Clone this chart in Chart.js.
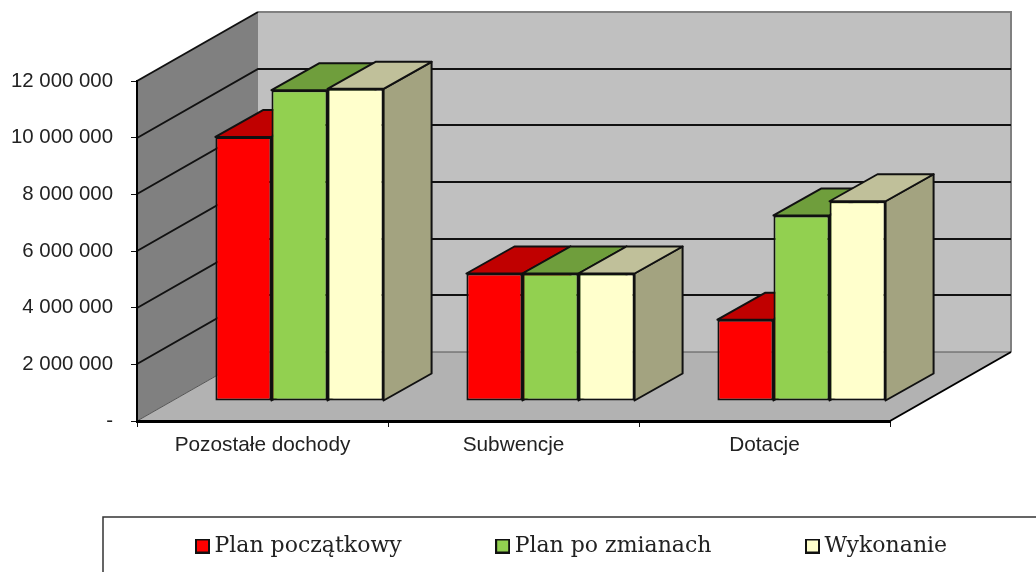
<!DOCTYPE html>
<html>
<head>
<meta charset="utf-8">
<title>Dochody</title>
<script src="https://cdn.jsdelivr.net/npm/chart.js@4"></script>
<style>
  html, body { margin: 0; padding: 0; background: #fff; overflow: hidden; }
  canvas { display: block; }
</style>
</head>
<body>
<canvas id="incomeChart" width="1036" height="572"></canvas>
<script>
const categories = ['Pozostałe dochody', 'Subwencje', 'Dotacje'];
const planPoczatkowy = [9320000, 4500000, 2870000];
const planPoZmianach = [10970000, 4500000, 6550000];
const wykonanie = [11020000, 4500000, 7050000];
const tickLabels = ['-', '2 000 000', '4 000 000', '6 000 000', '8 000 000', '10 000 000', '12 000 000'];

// 3D look: how far the back wall and the bars sit from the axis plane
const wallDepth = { x: 121, y: -69 };
const barShift = { x: 37, y: -20 };
const barDepth = { x: 48, y: -27 };
const legendPadding = 100;

function poly(ctx, points, fill, stroke, lineWidth) {
    ctx.beginPath();
    points.forEach((p, i) => i ? ctx.lineTo(p[0], p[1]) : ctx.moveTo(p[0], p[1]));
    ctx.closePath();
    ctx.fillStyle = fill;
    ctx.fill();
    if (stroke) {
        ctx.strokeStyle = stroke;
        ctx.lineWidth = lineWidth;
        ctx.lineJoin = 'round';
        ctx.stroke();
    }
}

// legend swatch, as a small canvas so the text can sit close to it
function swatch(color) {
    const c = document.createElement('canvas');
    c.width = 15;
    c.height = 15;
    const g = c.getContext('2d');
    g.fillStyle = color;
    g.fillRect(1, 1, 13, 13);
    g.strokeStyle = '#111111';
    g.lineWidth = 2;
    g.strokeRect(1, 1, 13, 13);
    return c;
}

const walls = {
    id: 'walls',
    beforeDraw(chart) {
        const ctx = chart.ctx;
        const { left, right, top, bottom } = chart.chartArea;
        const dx = wallDepth.x, dy = wallDepth.y;

        // the legend keeps its padding between items but sits in a tight frame
        const legend = chart.legend;
        legend.left = 201.5 - legendPadding;
        legend.right = 1150;
        legend.top = 535 - legendPadding;
        legend.bottom = 572;

        ctx.save();
        poly(ctx, [[left, top], [left + dx, top + dy], [left + dx, bottom + dy], [left, bottom]], '#808080');
        poly(ctx, [[left + dx, top + dy], [right + dx, top + dy], [right + dx, bottom + dy], [left + dx, bottom + dy]], '#c0c0c0');
        poly(ctx, [[left, bottom], [left + dx, bottom + dy], [right + dx, bottom + dy], [right, bottom]], '#b2b2b2');

        // wall outline
        ctx.strokeStyle = '#808080';
        ctx.lineWidth = 2;
        ctx.beginPath();
        ctx.moveTo(left + dx, top + dy);
        ctx.lineTo(right + dx, top + dy);
        ctx.lineTo(right + dx, bottom + dy);
        ctx.stroke();

        // grid lines run along the side wall and across the back wall
        const yScale = chart.scales.y;
        yScale.ticks.forEach(t => {
            const y = Math.round(yScale.getPixelForValue(t.value));
            if (t.value === 0) {
                ctx.strokeStyle = '#555555';
                ctx.lineWidth = 1;
            } else {
                ctx.strokeStyle = '#111111';
                ctx.lineWidth = 2;
            }
            ctx.beginPath();
            ctx.moveTo(left, y);
            ctx.lineTo(left + dx, y + dy);
            if (t.value < 12000000) {
                ctx.lineTo(right + dx, y + dy);
            }
            ctx.stroke();
        });

        // front right edge of the floor
        ctx.strokeStyle = '#000000';
        ctx.lineWidth = 2;
        ctx.beginPath();
        ctx.moveTo(right, bottom);
        ctx.lineTo(right + dx, bottom + dy);
        ctx.stroke();
        ctx.restore();
    }
};

const bars3d = {
    id: 'bars3d',
    beforeDatasetsDraw(chart) {
        const ctx = chart.ctx;
        ctx.save();
        ctx.translate(barShift.x, barShift.y);
        const bx = barDepth.x, by = barDepth.y;
        chart.data.datasets.forEach((ds, i) => {
            chart.getDatasetMeta(i).data.forEach(bar => {
                const l = bar.x - bar.width / 2;
                const r = bar.x + bar.width / 2;
                poly(ctx, [[r, bar.y], [r + bx, bar.y + by], [r + bx, bar.base + by], [r, bar.base]], ds.sideColor, '#111111', 2);
                poly(ctx, [[l, bar.y], [l + bx, bar.y + by], [r + bx, bar.y + by], [r, bar.y]], ds.topColor, '#111111', 2);
            });
        });
    },
    afterDatasetsDraw(chart) {
        chart.ctx.restore();
    },
    afterDraw(chart) {
        const ctx = chart.ctx;
        ctx.save();
        ctx.strokeStyle = '#333333';
        ctx.lineWidth = 1.5;
        ctx.strokeRect(103, 517, 1000, 100);
        ctx.restore();
    }
};

const incomeCtx = document.getElementById('incomeChart').getContext('2d');
const incomeChart = new Chart(incomeCtx, {
    type: 'bar',
    data: {
        labels: categories,
        datasets: [{
            label: 'Plan początkowy',
            data: planPoczatkowy,
            backgroundColor: '#ff0000',
            topColor: '#c00000',
            sideColor: '#a00000'
        }, {
            label: 'Plan po zmianach',
            data: planPoZmianach,
            backgroundColor: '#92d050',
            topColor: '#6f9e3c',
            sideColor: '#6f9e3c'
        }, {
            label: 'Wykonanie',
            data: wykonanie,
            backgroundColor: '#ffffcc',
            topColor: '#c0c09a',
            sideColor: '#a3a380'
        }]
    },
    options: {
        responsive: false,
        animation: false,
        events: [],
        layout: {
            padding: { top: 81, right: 146 }
        },
        datasets: {
            bar: {
                borderColor: '#111111',
                borderWidth: 2,
                borderSkipped: false,
                barPercentage: 1,
                categoryPercentage: 0.67,
                clip: false
            }
        },
        plugins: {
            tooltip: { enabled: false },
            legend: {
                position: 'bottom',
                align: 'start',
                maxHeight: 55,
                labels: {
                    usePointStyle: true,
                    pointStyleWidth: 2,
                    padding: legendPadding,
                    color: '#222222',
                    font: { family: '"DejaVu Serif"', size: 22 },
                    generateLabels(chart) {
                        return Chart.defaults.plugins.legend.labels.generateLabels(chart).map((item, i) => {
                            item.pointStyle = swatch(chart.data.datasets[i].backgroundColor);
                            return item;
                        });
                    }
                }
            }
        },
        scales: {
            x: {
                afterFit(scale) { scale.height = 96; },
                grid: { offset: true, drawOnChartArea: false, color: '#111111', tickLength: 6 },
                border: { color: '#000000', width: 3 },
                ticks: {
                    color: '#222222',
                    padding: 6,
                    maxRotation: 0,
                    font: { family: '"Liberation Sans"', size: 20.8 }
                }
            },
            y: {
                min: 0,
                max: 12000000,
                afterFit(scale) { scale.width = 137; },
                grid: { drawOnChartArea: false, color: '#111111', tickLength: 6 },
                border: { color: '#000000', width: 2 },
                ticks: {
                    stepSize: 2000000,
                    color: '#222222',
                    padding: 18,
                    font: { family: '"Liberation Sans"', size: 20.4 },
                    callback: value => tickLabels[value / 2000000]
                }
            }
        }
    },
    plugins: [walls, bars3d]
});
</script>
</body>
</html>
